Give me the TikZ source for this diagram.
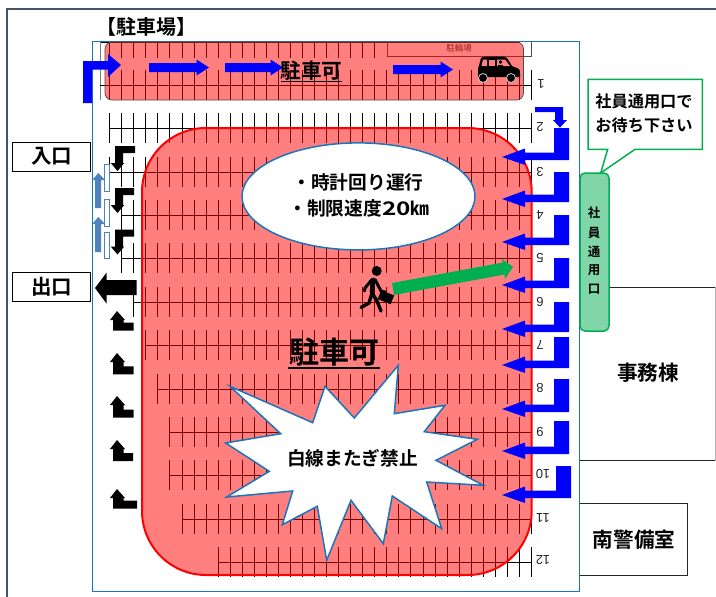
\documentclass[tikz,border=0pt]{standalone}
\usepackage{fontspec}
\usetikzlibrary{shapes.geometric}
\setmainfont{Noto Sans CJK JP}[BoldFont={Noto Sans CJK JP Bold}]
\setsansfont{Liberation Sans}
\tikzset{
  x=1pt,y=-1pt,
  bluearrow/.style={fill={rgb,255:red,0;green,0;blue,255},draw=none},
  blackarrow/.style={fill=black,draw=none},
  gridline/.style={draw=black,line width=0.55pt},
  parkfill/.style={fill=red,fill opacity=0.5},
  bluestroke/.style={draw=bluestk,line width=1.5pt},
  boxlabel/.style={font=\bfseries\fontsize{20.6}{24}\selectfont,inner sep=0pt},
  lblm/.style={font=\bfseries\fontsize{18.7}{22}\selectfont,inner sep=0pt},
  rownum/.style={font=\sffamily\fontsize{13}{15}\selectfont,rotate=180,inner sep=0pt,text=black!85},
  vert/.style={font=\bfseries\fontsize{12.5}{14}\selectfont,inner sep=0pt},
  callt/.style={font=\bfseries\fontsize{16.2}{18}\selectfont,inner sep=0pt},
  plainbox/.style={draw=black!85,line width=1pt,fill=white},
  gatebox/.style={draw=black,line width=1pt,fill=white,minimum width=78pt,inner sep=0pt,font=\bfseries\fontsize{20.5}{24}\selectfont}
}
\definecolor{bluestk}{RGB}{27,117,188}
\definecolor{frame}{RGB}{68,84,106}
\definecolor{gr}{RGB}{0,176,80}
\definecolor{grfill}{RGB}{128,214,168}
\definecolor{steel}{RGB}{79,129,189}
\newcommand{\gridrow}[2]{%
  \draw[gridline] (#2,#1) -- (531.7,#1);
  \pgfmathsetmacro{\xs}{#2}
  \foreach \k in {0,...,35}{
    \pgfmathsetmacro{\xx}{109.5+12.05*\k}
    \pgfmathparse{\xx>=\xs-1?1:0}
    \ifnum\pgfmathresult=1 \draw[gridline] (\xx,#1-15) -- (\xx,#1+15);\fi
  }}
% top, bottom of blue L arrow
\newcommand{\blueL}[3][0]{%
  \fill[bluearrow] (569+#1,#2) -- (569+#1,#3) -- (525,#3) -- (525,#3+5) -- (502,#3-3) -- (525,#3-11.5) -- (525,#3-7.5) -- (554+#1,#3-7.5) -- (554+#1,#2) -- cycle;}
\newcommand{\blueR}[3]{% x start, tip x, y centre
  \fill[bluearrow] (#1,#3-4.5) -- (#2-12.5,#3-4.5) -- (#2-12.5,#3-8) -- (#2,#3) -- (#2-12.5,#3+8) -- (#2-12.5,#3+4.5) -- (#1,#3+4.5) -- cycle;}
\newcommand{\blackDown}[2]{% top y, right x
  \fill[blackarrow] (#2,#1) -- (#2,#1+7) -- (123,#1+7) -- (123,#1+17) -- (124.3,#1+17) -- (117.5,#1+25) -- (110.7,#1+17) -- (115,#1+17) -- (115,#1) -- cycle;}
\newcommand{\blackUp}[3]{% tip y, bottom y, right x
  \fill[blackarrow] (117,#1) -- (125,#1+9) -- (123.5,#1+9) -- (123.5,#2-8) -- (#3,#2-8) -- (#3,#2) -- (113,#2) -- (113,#1+9) -- (110,#1+9) -- cycle;}
\begin{document}
\begin{tikzpicture}
\useasboundingbox (0,0) rectangle (716,597);
\fill[white] (0,0) rectangle (716,597);
% outer frame
\draw[frame,line width=1.5pt] (716,9) -- (7,9) -- (7,597);
% buildings
\draw[black!85,line width=1pt] (609,287) -- (715,287);
\draw[black!85,line width=1pt] (579,460.5) -- (715,460.5);
\draw[black!30,line width=1pt] (715,287) -- (715,460.5);
\path[plainbox] (579,503.7) rectangle (687.7,575.7);
\node[boxlabel] (keibilabel) at (634,540) {南警備室};
\node[boxlabel] (jimu) at (648,373) {事務棟};
% lot boundary
\fill[white] (92,41) rectangle (579,591.5);
\draw[bluestk,line width=1pt] (92,41) rectangle (579,591.5);
% grid
\draw[gridline] (100,42) -- (520,42);
\foreach \k in {0,...,22}{
  \pgfmathsetmacro{\xx}{109.5+12.05*\k}
  \draw[gridline] (\xx,42) -- (\xx,58);
}
\draw[gridline,black!50] (100,42) -- (100,100);
\draw[gridline] (100,85) -- (531.7,85);
\foreach \k in {0,...,35}{
  \pgfmathsetmacro{\xx}{109.5+12.05*\k}
  \draw[gridline] (\xx,70) -- (\xx,100);
}
\gridrow{128}{109.5}
\gridrow{172}{109.5}
\gridrow{215}{121.5}
\gridrow{258}{121.5}
\gridrow{302}{133.5}
\gridrow{345}{145.5}
\gridrow{389}{157.5}
\gridrow{432}{169.5}
\gridrow{475}{169.5}
\gridrow{519}{181.5}
\gridrow{562}{218}
% bicycle lot
\draw[black!70,line width=0.6pt] (387,42) -- (387,56) -- (531.7,56) -- (531.7,42);
\node[font=\fontsize{8.5}{10}\selectfont,text=black!75,inner sep=0pt] (bike) at (459,48) {駐輪場};
% red zones
\path[parkfill,draw=black!70,draw opacity=1,line width=0.7pt,rounded corners=7pt] (105,42) rectangle (523.5,100);
\path[parkfill,draw=red,draw opacity=1,line width=2pt,rounded corners=64pt] (142,128) rectangle (531.7,575);
% row numbers
\node[rownum] (n1) at (541,84) {1};
\node[rownum] (n2) at (540,127) {2};
\node[rownum] (n3) at (540,172) {3};
\node[rownum] (n4) at (540,215) {4};
\node[rownum] (n5) at (540,258) {5};
\node[rownum] (n6) at (540,302) {6};
\node[rownum] (n7) at (540,345) {7};
\node[rownum] (n8) at (540,388) {8};
\node[rownum] (n9) at (540,432) {9};
\node[rownum] (n10) at (543,474) {10};
\node[rownum] (n11) at (543,518) {11};
\node[rownum] (n12) at (543,560) {12};
% top arrows
\fill[bluearrow] (83,103) -- (83,61) -- (108,61) -- (108,54) -- (121,65) -- (108,77) -- (108,69.5) -- (92,69.5) -- (92,103) -- cycle;
\blueR{149}{209}{67.5}
\blueR{225}{283}{67.5}
\blueR{393}{453}{69.5}
\fill[bluearrow] (535,107) -- (563,107) -- (563,120) -- (567,120) -- (560,127.6) -- (553,120) -- (555,120) -- (555,112) -- (535,112) -- cycle;
\blueL{128}{160}
\blueL{172}{202}
\blueL{215}{245}
\blueL{258}{288}
\blueL{302}{332}
\blueL{337}{368}
\blueL{379}{412}
\blueL{421}{454}
\blueL[2]{466}{498}
% left arrows
\blackDown{146}{135}
\blackDown{188}{134}
\blackDown{229.5}{134}
\fill[blackarrow] (136.7,280) -- (136.7,295) -- (106.5,295) -- (106.5,303.5) -- (95,288) -- (106.5,272.7) -- (106.5,280) -- cycle;
\blackUp{311}{330.5}{133.5}
\blackUp{353}{374.3}{133.5}
\blackUp{396}{417.7}{133.5}
\blackUp{440}{461}{133}
\blackUp{489}{508.7}{137}
\foreach \t/\b in {173/208,217/252}{
  \fill[steel] (98.3,\t) -- (105,\t+7) -- (101,\t+7) -- (101,\b) -- (95,\b) -- (95,\t+7) -- (92.3,\t+7) -- cycle;
}
\foreach \t/\b in {164/191,199/226.7,232/258.7}{
  \draw[steel,fill=white,line width=0.7pt] (104.7,\t) rectangle (109,\b);
}
% entrance, exit
\node[gatebox,minimum height=29pt] (iriguchi) at (51.5,156.5) {入口};
\node[gatebox,minimum height=29.7pt] (deguchi) at (51.5,287) {出口};
% title
\node[font=\bfseries\fontsize{20}{24}\selectfont,inner sep=0pt] (title) at (146.5,27) {【駐車場】};
% car
\fill[black] (478,77) -- (478,69) -- (481,58) -- (484,56.7) -- (504,56.7) -- (507,58) -- (512,66) -- (519,69) -- (520,74) -- (520,77) -- cycle;
\fill[red!50!white] (483,59.5) -- (487,59.5) -- (487,66) -- (481.5,66) -- cycle;
\fill[red!50!white] (489,59.5) -- (495,59.5) -- (495,66) -- (489,66) -- cycle;
\fill[red!50!white] (497,59.5) -- (505,59.5) -- (510,66) -- (497,66) -- cycle;
\fill[black] (500.5,62) circle (1.8);
\fill[black] (498,65) rectangle (503,67);
\draw[black!20,fill=black,line width=0.8pt] (483,78) circle (4.5);
\draw[black!20,fill=black,line width=0.8pt] (511,78) circle (4.5);
% top label
\node[boxlabel] (park1) at (311.5,71) {駐車可};
\draw[black,line width=0.9pt] (281,81) -- (342,81);
% ellipse
\node[ellipse,bluestroke,fill=white,minimum width=233pt,minimum height=107pt,inner sep=0pt] (rules) at (358.5,196.4) {};
\node[lblm] (rule1) at (358,182) {・時計回り運行};
\node[lblm] (rule2) at (359,208) {・制限速度\scalebox{1.3}[1]{20}㎞};
% green arrow
\fill[gr] (392,283) -- (503,262.5) -- (501.7,259) -- (513,266.7) -- (505,279) -- (504.5,274.5) -- (394,295) -- cycle;
% person
\fill[black] (376.7,271) circle (5);
\draw[black,line width=4.6pt,line cap=round,line join=round] (373,280) -- (372,292);
\draw[black,line width=3pt,line cap=round,line join=round] (372,279.5) -- (365,288) -- (364.5,291);
\draw[black,line width=3pt,line cap=round,line join=round] (375,279.5) -- (381,291) -- (385,292);
\draw[black,line width=3.4pt,line cap=round,line join=round] (372,293) -- (369,303) -- (361,307.5);
\draw[black,line width=3.4pt,line cap=round,line join=round] (372,293) -- (377,301) -- (381,311);
\fill[black,rotate around={-22:(386,297)}] (379,292.5) rectangle (393,302);
% main label
\node[font=\bfseries\fontsize{30}{34}\selectfont,inner sep=0pt] (park2) at (334,352) {駐車可};
\draw[black,line width=1.4pt] (288,368) -- (380,368);
% star
\path[draw=bluestk,line width=1.5pt,fill=white,line join=miter] (230,386.3) -- (312.7,422.7) -- (325,386.3) -- (354.3,418) -- (398.3,365.3) -- (394.3,413.7) -- (445,405.3) -- (424.3,431.7) -- (477.3,439.3) -- (436,460.3) -- (483.3,485.3) -- (426.7,482) -- (441.7,528.7) -- (392.3,496) -- (383.3,543.7) -- (351,500.3) -- (326.7,560.3) -- (317.3,506.3) -- (282.3,524.7) -- (292.7,491) -- (226.7,497) -- (269.3,471.3) -- (225.7,443) -- (280.7,433.7) -- cycle;
\node[lblm] (nostrad) at (352.5,458) {白線またぎ禁止};
% employee door
\path[draw=gr,line width=1.5pt,fill=grfill,rounded corners=5pt] (580,173) rectangle (609,331);
\node[vert] (v1) at (594,213) {社};
\node[vert] (v2) at (594,233) {員};
\node[vert] (v3) at (594,252) {通};
\node[vert] (v4) at (594,270) {用};
\node[vert] (v5) at (594,289) {口};
% callout
\path[draw=gr,line width=1.5pt,fill=white] (588,79.3) -- (702.3,79.3) -- (702.3,149.3) -- (635,149.3) -- (600.7,173) -- (607.7,149.3) -- (588,149.3) -- cycle;
\node[callt] (c1) at (644,101) {社員通用口で};
\node[callt] (c2) at (644,125) {お待ち下さい};
\end{tikzpicture}
\end{document}
